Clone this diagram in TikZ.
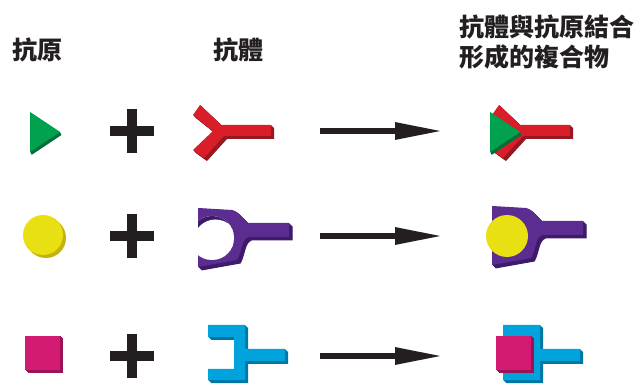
\documentclass[tikz,border=0pt]{standalone}
\usepackage{fontspec}
\newfontfamily\cjk{Noto Sans CJK TC}
\usetikzlibrary{arrows.meta}

\definecolor{inkgray}{HTML}{231F20}
\definecolor{agGreen}{HTML}{00A14F}
\definecolor{agGreenDk}{HTML}{006F38}
\definecolor{agYellow}{HTML}{E9E014}
\definecolor{agYellowDk}{HTML}{C2B40C}
\definecolor{agMagenta}{HTML}{D41B74}
\definecolor{agMagentaDk}{HTML}{9C1256}
\definecolor{abRed}{HTML}{D91E2A}
\definecolor{abRedDk}{HTML}{981820}
\definecolor{abPurple}{HTML}{5C2D91}
\definecolor{abPurpleDk}{HTML}{3D1B6A}
\definecolor{abCyan}{HTML}{00A3DC}
\definecolor{abCyanDk}{HTML}{0078A6}

\tikzset{
  heading/.style={anchor=base west,inner sep=0pt,text=inkgray,
    font=\cjk\bfseries\fontsize{25}{30}\selectfont},
  yields/.style={line width=6pt,draw=inkgray,-{Triangle[length=48pt,width=16pt]}},
  % outlines of the pieces
  wedgepath/.style={insert path={(0,-20) -- (0,20) -- (30,0) -- cycle}},
  ypath/.style={insert path={(-13,-26) -- (8,-6) -- (58,-6) -- (58,5) -- (11,5)
    -- (-9,27) -- (-20,19) -- (0,0) -- (-20,-16) -- cycle}},
  cuppath/.style={insert path={(-15,-30) -- (19,-28)
    .. controls (27,-26) and (30,-18) .. (35,-15) -- (76,-15) -- (76,-1) -- (35,-1)
    .. controls (28,2) and (29,14) .. (24,22) -- (-15,29) -- cycle}},
  brkpath/.style={insert path={(0,0) -- (37,0) -- (37,24) -- (77,24) -- (77,36)
    -- (37,36) -- (37,55) -- (0,55) -- (0,44) -- (26,44) -- (26,12) -- (0,12) -- cycle}},
  % antigens
  wedge/.pic={
    \foreach \d in {0.5,1,...,3}
      \fill[agGreenDk,shift={(\d/2,\d)},wedgepath];
    \fill[agGreen,wedgepath];
  },
  ball/.pic={
    \foreach \d in {0.5,1,...,3}
      \fill[agYellowDk] (\d,\d) circle (20);
    \fill[agYellow] (0,0) circle (20);
  },
  block/.pic={
    \foreach \d in {0.5,1,...,3}
      \fill[agMagentaDk] (\d,\d) rectangle +(35,34);
    \fill[agMagenta] (0,0) rectangle (35,34);
  },
  % antibodies
  yshape/.pic={
    \foreach \d in {0.5,1,...,3}
      \fill[abRedDk,shift={(\d,\d)},ypath];
    \fill[abRed,ypath];
  },
  cup/.pic={
    \foreach \d in {0.5,1,...,3.5}
      \fill[abPurpleDk,shift={(\d,\d)},cuppath];
    \fill[abPurple,cuppath];
  },
  cuphole/.pic={
    \begin{scope}
      \clip (-1,0) circle (22);
      \fill[white] (-30,-30) rectangle (30,30);
      \clip[cuppath];
      \fill[abPurpleDk] (-1,0) circle (22);
      \fill[white] (2.5,3.5) circle (22);
    \end{scope}
  },
  bracket/.pic={
    \foreach \d in {0.5,1,...,3}
      \fill[abCyanDk,shift={(\d,\d)},brkpath];
    \fill[abCyan,brkpath];
  },
  plus/.pic={
    \fill[inkgray] (-22,-5) rectangle (22,5);
    \fill[inkgray] (-5,-22) rectangle (5,22);
  },
}

\begin{document}
\begin{tikzpicture}[x=1pt,y=-1pt]
  \useasboundingbox (0,0) rectangle (641,385);

  % headings
  \node[heading] (antigen) at (12,60) {抗原};
  \node[heading] (antibody) at (213,60) {抗體};
  \node[heading] (complex1) at (459,37) {抗體與抗原結合};
  \node[heading] (complex2) at (459,67) {形成的複合物};

  % row 1
  \pic at (30,132) {wedge};
  \pic at (132,131) {plus};
  \pic at (213,131) {yshape};
  \coordinate (r1a) at (320,131);
  \coordinate (r1b) at (443,131);
  \draw[yields] (r1a) -- (r1b);
  \pic at (512,131) {yshape};
  \pic at (490,132) {wedge};

  % row 2
  \pic at (43,235) {ball};
  \pic at (132,236) {plus};
  \pic at (213,238) {cup};
  \pic at (213,238) {cuphole};
  \coordinate (r2a) at (320,236);
  \coordinate (r2b) at (443,236);
  \draw[yields] (r2a) -- (r2b);
  \pic at (507,236) {cup};
  \fill[agYellow] (507,236) circle (21);

  % row 3
  \pic at (25,336) {block};
  \pic at (132,356) {plus};
  \pic at (208,325) {bracket};
  \coordinate (r3a) at (320,356);
  \coordinate (r3b) at (443,356);
  \draw[yields] (r3a) -- (r3b);
  \pic at (503,325) {bracket};
  \pic at (496,336) {block};
\end{tikzpicture}
\end{document}
